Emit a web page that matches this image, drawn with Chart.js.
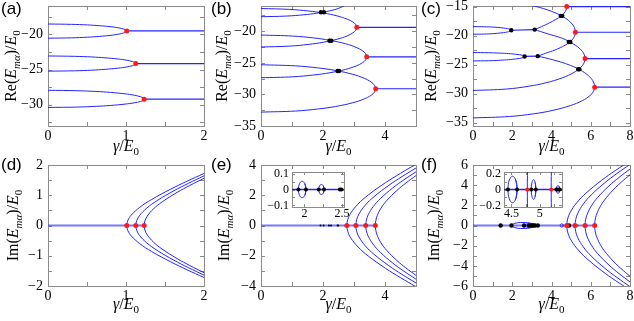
<!DOCTYPE html>
<html>
<head>
<meta charset="utf-8">
<title>Re and Im of E_ma versus gamma</title>
<script src="https://cdn.jsdelivr.net/npm/chart.js@4.4.1/dist/chart.umd.min.js"></script>
<style>
  body { margin: 0; background: #fff; }
  #fig { position: relative; width: 634px; height: 321px; overflow: hidden; }
  #fig canvas { position: absolute; }
</style>
</head>
<body>
<div id="fig"></div>
<script>
// ---- values (gamma/E0, E/E0) ----

// (a) Re: each pair runs lower branch -> exceptional point -> upper branch
const aPair1 = [[0,-20.56],[0.303,-20.51],[0.505,-20.42],[0.657,-20.31],[0.808,-20.15],[0.909,-19.98],[0.97,-19.82],[1.0,-19.68],[1.01,-19.53],[1.0,-19.39],[0.97,-19.26],[0.909,-19.10],[0.808,-18.94],[0.657,-18.79],[0.505,-18.68],[0.303,-18.60],[0,-18.55]];
const aPair2 = [[0,-25.23],[0.338,-25.18],[0.563,-25.09],[0.732,-24.97],[0.901,-24.80],[1.013,-24.63],[1.081,-24.46],[1.115,-24.31],[1.126,-24.16],[1.115,-24.01],[1.081,-23.86],[1.013,-23.69],[0.901,-23.51],[0.732,-23.34],[0.563,-23.22],[0.338,-23.13],[0,-23.08]];
const aPair3 = [[0,-30.37],[0.37,-30.32],[0.617,-30.21],[0.801,-30.09],[0.986,-29.90],[1.11,-29.71],[1.184,-29.53],[1.221,-29.37],[1.233,-29.2],[1.221,-29.02],[1.184,-28.85],[1.11,-28.65],[0.986,-28.44],[0.801,-28.24],[0.617,-28.11],[0.37,-28.00],[0,-27.94]];
const aEP = [[1.01,-19.53],[1.126,-24.16],[1.233,-29.2]];

// (b) Re
const bArm0 = [[0,-17.70],[0.831,-17.59],[1.385,-17.39],[1.801,-17.14],[2.216,-16.77],[2.493,-16.39],[2.659,-16.02],[2.742,-15.70],[2.77,-15.37]];
const bPair1 = [[0,-22.49],[0.927,-22.35],[1.545,-22.07],[2.009,-21.74],[2.472,-21.24],[2.781,-20.73],[2.966,-20.24],[3.059,-19.81],[3.09,-19.37],[3.059,-18.95],[2.966,-18.54],[2.781,-18.08],[2.472,-17.59],[2.009,-17.11],[1.545,-16.80],[0.927,-16.54],[0,-16.40]];
const bPair2 = [[0,-27.36],[1.023,-27.21],[1.705,-26.92],[2.217,-26.57],[2.728,-26.04],[3.069,-25.49],[3.274,-24.98],[3.376,-24.52],[3.41,-24.05],[3.376,-23.56],[3.274,-23.08],[3.069,-22.55],[2.728,-21.98],[2.217,-21.43],[1.705,-21.06],[1.023,-20.76],[0,-20.60]];
const bPair3 = [[0,-32.80],[1.11,-32.63],[1.85,-32.30],[2.405,-31.91],[2.96,-31.32],[3.33,-30.71],[3.552,-30.14],[3.663,-29.62],[3.7,-29.1],[3.663,-28.56],[3.552,-28.04],[3.33,-27.44],[2.96,-26.82],[2.405,-26.21],[1.85,-25.81],[1.11,-25.48],[0,-25.30]];
const bEP = [[3.09,-19.37],[3.41,-24.05],[3.7,-29.1]];
const bCross = [[1.93,-17.0],[2.03,-17.0],[2.21,-21.5],[2.27,-21.5],[2.47,-26.3],[2.52,-26.3]];

// (c) Re
const cLeft1 = [[0,-19.77],[0.585,-19.74],[0.975,-19.68],[1.268,-19.60],[1.56,-19.49],[1.755,-19.38],[1.872,-19.27],[1.931,-19.18],[1.95,-19.08],[1.931,-18.99],[1.872,-18.90],[1.755,-18.81],[1.56,-18.70],[1.268,-18.60],[0.975,-18.53],[0.585,-18.48],[0,-18.45]];
const cLeft2 = [[0,-24.37],[0.789,-24.34],[1.315,-24.27],[1.71,-24.19],[2.104,-24.06],[2.367,-23.94],[2.525,-23.82],[2.604,-23.71],[2.63,-23.6],[2.604,-23.51],[2.525,-23.41],[2.367,-23.31],[2.104,-23.20],[1.71,-23.09],[1.315,-23.02],[0.789,-22.96],[0,-22.93]];
const cJoin1 = [[1.95,-19.08],[3.14,-18.97]];
const cJoin2 = [[2.63,-23.6],[3.3,-23.55]];
const cArcA = [[3.14,-18.97],[3.5,-18.45],[3.9,-17.8],[4.2,-17.25],[4.51,-16.6],[4.65,-16.1],[4.74,-15.6],[4.78,-15.0],[4.74,-14.4],[4.65,-13.9]];
const cArcB = [[2.61,-14.55],[3.393,-15.15],[4.176,-16.05],[4.698,-16.98],[5.011,-17.85],[5.168,-18.64],[5.22,-19.43],[5.168,-20.15],[5.011,-20.86],[4.698,-21.65],[4.176,-22.49],[3.7,-23.05],[3.3,-23.55]];
const cArcC = [[3.14,-18.97],[3.712,-19.6],[4.568,-20.5],[5.139,-21.50],[5.482,-22.39],[5.653,-23.17],[5.71,-23.97],[5.653,-24.75],[5.482,-25.51],[5.139,-26.37],[4.568,-27.27],[3.712,-28.15],[2.855,-28.73],[1.713,-29.22],[0,-29.47]];
const cArcD = [[3.3,-23.55],[4.03,-24.14],[4.96,-25.14],[5.58,-26.17],[5.952,-27.14],[6.138,-28.02],[6.2,-28.9],[6.138,-29.65],[5.952,-30.38],[5.58,-31.21],[4.96,-32.08],[4.03,-32.93],[3.1,-33.49],[1.86,-33.96],[0,-34.2]];
const cEP = [[4.78,-15.0],[5.22,-19.43],[5.71,-23.97],[6.2,-28.9]];
const cCross = [[1.95,-19.08],[3.14,-18.97],[2.63,-23.6],[3.3,-23.55],[4.47,-16.6],[4.55,-16.6],[4.88,-21.1],[4.96,-21.1],[5.36,-25.8],[5.42,-25.8]];

// (d) Im: upper halves of the branches leaving each exceptional point
const dBranch1 = [[1.01,0],[1.0247,0.172],[1.0674,0.344],[1.1769,0.602],[1.3286,0.86],[1.5749,1.204],[1.7813,1.462],[2,1.72]];
const dBranch2 = [[1.126,0],[1.1381,0.164],[1.1735,0.328],[1.2659,0.574],[1.3968,0.82],[1.6145,1.148],[1.8005,1.394],[2,1.64]];
const dBranch3 = [[1.233,0],[1.243,0.156],[1.2726,0.312],[1.3506,0.546],[1.4629,0.78],[1.6539,1.092],[1.8199,1.326],[2,1.56]];
const dEP = [[1.01,0],[1.126,0],[1.233,0]];

// (e) Im
const eBranch1 = [[2.77,0],[2.801,0.405],[2.892,0.81],[3.13,1.418],[3.465,2.025],[4.02,2.835],[4.494,3.443],[5,4.05]];
const eBranch2 = [[3.06,0],[3.085,0.38],[3.161,0.76],[3.358,1.33],[3.643,1.9],[4.126,2.66],[4.545,3.23],[5,3.8]];
const eBranch3 = [[3.38,0],[3.4,0.355],[3.459,0.71],[3.618,1.243],[3.849,1.775],[4.252,2.485],[4.608,3.018],[5,3.55]];
const eBranch4 = [[3.69,0],[3.705,0.33],[3.751,0.66],[3.874,1.155],[4.057,1.65],[4.381,2.31],[4.673,2.805],[5,3.3]];
const eEP = [[2.77,0],[3.06,0],[3.38,0],[3.69,0]];
const eLoop1 = [[2.005,-0.037],[2.02,0],[2.005,0.037],[1.97,0.052],[1.935,0.037],[1.92,0],[1.935,-0.037],[1.97,-0.052],[2.005,-0.037],[2.02,0],[2.005,0.037]];
const eLoop2 = [[2.25,-0.023],[2.26,0],[2.25,0.023],[2.225,0.032],[2.2,0.023],[2.19,0],[2.2,-0.023],[2.225,-0.032],[2.25,-0.023],[2.26,0],[2.25,0.023]];
const eDots = [[1.92,0],[2.02,0],[2.19,0],[2.26,0],[2.47,0],[2.49,0]];

// (f) Im
const fBranch1 = [[4.78,0],[4.823,0.641],[4.949,1.282],[5.281,2.244],[5.756,3.205],[6.558,4.487],[7.251,5.449],[8,6.41]];
const fBranch2 = [[5.2,0],[5.235,0.606],[5.34,1.212],[5.619,2.121],[6.023,3.03],[6.719,4.242],[7.331,5.151],[8,6.06]];
const fBranch3 = [[5.71,0],[5.737,0.56],[5.819,1.12],[6.037,1.96],[6.36,2.8],[6.927,3.92],[7.436,4.76],[8,5.6]];
const fBranch4 = [[6.2,0],[6.221,0.503],[6.282,1.006],[6.448,1.761],[6.696,2.515],[7.139,3.521],[7.544,4.276],[8,5.03]];
const fEP = [[4.78,0],[5.2,0],[5.71,0],[6.2,0]];
const fLoop1 = [[2.967,-0.212],[3.14,0],[2.967,0.212],[2.55,0.3],[2.133,0.212],[1.96,0],[2.133,-0.212],[2.55,-0.3],[2.967,-0.212],[3.14,0],[2.967,0.212]];
const fLoop2 = [[3.197,-0.127],[3.3,0],[3.197,0.127],[2.95,0.18],[2.703,0.127],[2.6,0],[2.703,-0.127],[2.95,-0.18],[3.197,-0.127],[3.3,0],[3.197,0.127]];
const fLoop3 = [[4.577,-0.118],[4.6,0],[4.577,0.118],[4.52,0.167],[4.463,0.118],[4.44,0],[4.463,-0.118],[4.52,-0.167],[4.577,-0.118],[4.6,0],[4.577,0.118]];
const fLoop4 = [[4.918,-0.088],[4.93,0],[4.918,0.088],[4.89,0.125],[4.862,0.088],[4.85,0],[4.862,-0.088],[4.89,-0.125],[4.918,-0.088],[4.93,0],[4.918,0.088]];
const fLoop5 = [[5.341,-0.035],[5.35,0],[5.341,0.035],[5.32,0.05],[5.299,0.035],[5.29,0],[5.299,-0.035],[5.32,-0.05],[5.341,-0.035],[5.35,0],[5.341,0.035]];
const fDots = [[1.41,0],[1.96,0],[2.6,0],[2.85,0],[3.0,0],[3.14,0],[3.3,0],[4.89,0]];
const fInsetDots = [[4.44,0],[4.6,0],[4.85,0],[4.93,0],[5.29,0],[5.32,0],[5.35,0]];

// tick positions and labelled ticks
const ticksA = { x: [0,0.5,1,1.5,2], xl: [0,1,2], y: [-32.5,-30,-27.5,-25,-22.5,-20,-17.5], yl: [-30,-25,-20] };
const ticksB = { x: [0,1,2,3,4,5], xl: [0,2,4], y: [-35,-32.5,-30,-27.5,-25,-22.5,-20,-17.5], yl: [-35,-30,-25,-20] };
const ticksC = { x: [0,1,2,3,4,5,6,7,8], xl: [0,2,4,6,8], y: [-35,-32.5,-30,-27.5,-25,-22.5,-20,-17.5,-15], yl: [-35,-30,-25,-20,-15] };
const ticksD = { x: [0,0.5,1,1.5,2], xl: [0,1,2], y: [-2,-1.5,-1,-0.5,0,0.5,1,1.5,2], yl: [-2,-1,0,1,2] };
const ticksE = { x: [0,1,2,3,4,5], xl: [0,2,4], y: [-4,-3,-2,-1,0,1,2,3,4], yl: [-4,-2,0,2,4] };
const ticksF = { x: [0,1,2,3,4,5,6,7,8], xl: [0,2,4,6,8], y: [-6,-5,-4,-3,-2,-1,0,1,2,3,4,5,6], yl: [-6,-4,-2,0,2,4,6] };
const ticksEi = { x: [2,2.25,2.5], xl: [2,2.5], y: [-0.1,-0.05,0,0.05,0.1], yl: [-0.1,0,0.1] };
const ticksFi = { x: [4.5,4.75,5,5.25], xl: [4.5,5], y: [-0.2,-0.1,0,0.1,0.2], yl: [-0.2,0,0.2] };

// ---- drawing ----
const SERIF = '"Liberation Serif", "DejaVu Serif", serif';
const BLUE = '#2424ff', ZERO = 'rgba(60,60,255,0.7)', RED = '#ff1a1a';
const fig = document.getElementById('fig');

const P = a => a.map(([x, y]) => ({ x, y }));
const line = (a, w = 1, c = BLUE) => ({ data: P(a), showLine: true, borderColor: c, borderWidth: w, pointRadius: 0, tension: 0.4, order: 2 });
const flat = (a, w = 1.2, c = BLUE) => ({ ...line(a, w, c), tension: 0 });
const dots = (a, c, r) => ({ data: P(a), showLine: false, pointRadius: r, pointBackgroundColor: c, pointBorderWidth: 0, clip: false, order: 0 });
const mirror = up => [...up.slice(1).reverse().map(([x, y]) => [x, -y]), ...up];
const plateau = (eps, xmax) => eps.map(([x, y]) => flat([[x, y], [xmax, y]]));
const zeroLine = (eps, w, c) => flat([[0, 0], [Math.max(...eps.map(p => p[0])), 0]], w, c);
const fmt = v => (v < 0 ? '\u2212' : '') + String(Math.abs(v));

const RE = [['Re(', 'n'], ['E', 'i'], ['m\u03b1', 'si'], [')/', 'n'], ['E', 'i'], ['0', 'sn']];
const IM = [['Im(', 'n'], ['E', 'i'], ['m\u03b1', 'si'], [')/', 'n'], ['E', 'i'], ['0', 'sn']];
const GX = [['\u03b3', 'i'], ['/', 'n'], ['E', 'i'], ['0', 'sn']];

function rich(ctx, parts, x, y, vertical) {
  const fnt = s => (s.includes('i') ? 'italic ' : '') + (s[0] === 's' ? 11 : 16) + 'px ' + SERIF;
  let w = 0;
  for (const [t, s] of parts) { ctx.font = fnt(s); w += ctx.measureText(t).width; }
  ctx.save();
  ctx.translate(x, y);
  if (vertical) ctx.rotate(-Math.PI / 2);
  ctx.fillStyle = '#000';
  ctx.textBaseline = 'alphabetic';
  let p = -w / 2;
  for (const [t, s] of parts) {
    ctx.font = fnt(s);
    ctx.fillText(t, p, s[0] === 's' ? 3.5 : 0);
    p += ctx.measureText(t).width;
  }
  ctx.restore();
}

const deco = {
  id: 'deco',
  beforeDraw(c, _a, o) {
    if (!o.white) return;
    const a = c.chartArea;
    c.ctx.save();
    c.ctx.fillStyle = '#fff';
    c.ctx.fillRect(a.left, a.top, a.right - a.left, a.bottom - a.top);
    c.ctx.restore();
  },
  beforeDatasetsDraw(c, _a, o) {
    const { ctx, chartArea: a, scales: { x, y } } = c;
    const L = o.tick;
    ctx.save();
    ctx.strokeStyle = '#8a8a8a';
    ctx.lineWidth = 1;
    ctx.beginPath();
    for (const t of x.ticks) {
      const p = Math.round(x.getPixelForValue(t.value)) + 0.5;
      ctx.moveTo(p, a.bottom); ctx.lineTo(p, a.bottom - L);
      ctx.moveTo(p, a.top); ctx.lineTo(p, a.top + L);
    }
    for (const t of y.ticks) {
      const p = Math.round(y.getPixelForValue(t.value)) + 0.5;
      ctx.moveTo(a.left, p); ctx.lineTo(a.left + L, p);
      ctx.moveTo(a.right, p); ctx.lineTo(a.right - L, p);
    }
    ctx.stroke();
    ctx.strokeRect(Math.round(a.left) + 0.5, Math.round(a.top) + 0.5, Math.round(a.right - a.left), Math.round(a.bottom - a.top));
    ctx.restore();
  },
  afterDraw(c, _a, o) {
    if (!o.label) return;
    const { ctx, chartArea: a } = c;
    const [bx, by] = o.box;
    ctx.save();
    ctx.fillStyle = '#000';
    ctx.font = '17px "Liberation Sans", Arial, sans-serif';
    ctx.textBaseline = 'alphabetic';
    ctx.fillText(o.label, o.labelAt[0] - bx, o.labelAt[1] - by);
    ctx.restore();
    rich(ctx, o.ytitle, o.ytitleX - bx, (a.top + a.bottom) / 2, true);
    rich(ctx, GX, (a.left + a.right) / 2, o.xtitleY - by, false);
  }
};

function axis(min, max, tk, labels, size, fs, pad) {
  return {
    type: 'linear', min, max,
    afterBuildTicks: s => { s.ticks = tk.map(v => ({ value: v })); },
    afterFit: s => {
      if (s.isHorizontal()) s.height = size; else s.width = size;
      s.paddingLeft = s.paddingRight = s.paddingTop = s.paddingBottom = 0;
    },
    ticks: {
      autoSkip: false, maxRotation: 0, minRotation: 0, padding: pad, color: '#000',
      font: { family: SERIF, size: fs }, callback: v => (labels.includes(v) ? fmt(v) : '')
    },
    grid: { display: false, drawTicks: false },
    border: { display: false }
  };
}

function panel(s) {
  const [bx, by, bw, bh] = s.box;
  const [l, t, r, b] = s.plot;
  const cv = document.createElement('canvas');
  cv.width = bw; cv.height = bh;
  cv.style.left = bx + 'px'; cv.style.top = by + 'px';
  fig.appendChild(cv);
  const fs = s.inset ? 12 : 14;
  new Chart(cv, {
    type: 'scatter',
    data: { datasets: s.datasets },
    options: {
      responsive: false, animation: false, devicePixelRatio: 1, events: [],
      layout: { padding: { left: 0, top: t - by, right: bx + bw - r, bottom: 0 } },
      plugins: {
        legend: { display: false }, tooltip: { enabled: false },
        deco: { box: [bx, by], tick: s.inset ? 3 : 4, white: !!s.inset, label: s.label, labelAt: s.labelAt,
                ytitle: s.ytitle, ytitleX: s.ytitleX, xtitleY: s.xtitleY }
      },
      scales: {
        x: axis(s.xr[0], s.xr[1], s.ticks.x, s.ticks.xl, by + bh - b, fs, s.inset ? 0 : 2),
        y: axis(s.yr[0], s.yr[1], s.ticks.y, s.ticks.yl, l - bx, fs, s.inset ? 3 : 5)
      }
    },
    plugins: [deco]
  });
}

panel({ box: [0, 0, 210, 157], plot: [48, 6, 204, 126], xr: [0, 2], yr: [-33, -16], ticks: ticksA,
  label: '(a)', labelAt: [1, 14], ytitle: RE, ytitleX: 16, xtitleY: 151,
  datasets: [dots(aEP, RED, 2.5), line(aPair1), line(aPair2), line(aPair3), ...plateau(aEP, 2)] });

panel({ box: [210, 0, 210, 157], plot: [261, 6, 418, 126], xr: [0, 5], yr: [-35, -16], ticks: ticksB,
  label: '(b)', labelAt: [211, 14], ytitle: RE, ytitleX: 227, xtitleY: 151,
  datasets: [dots(bEP, RED, 2.5), dots(bCross, '#000', 2.2), line(bArm0), line(bPair1), line(bPair2), line(bPair3), ...plateau(bEP, 5)] });

panel({ box: [420, 0, 214, 157], plot: [473, 6, 631, 126], xr: [0, 8], yr: [-35.6, -14.9], ticks: ticksC,
  label: '(c)', labelAt: [421, 14], ytitle: RE, ytitleX: 436, xtitleY: 151,
  datasets: [dots(cEP, RED, 2.5), dots(cCross, '#000', 2.2), line(cLeft1), line(cLeft2), flat(cJoin1), flat(cJoin2),
    line(cArcA), line(cArcB), line(cArcC), line(cArcD), ...plateau(cEP, 8)] });

panel({ box: [0, 157, 210, 164], plot: [48, 165, 204, 286], xr: [0, 2], yr: [-2, 2], ticks: ticksD,
  label: '(d)', labelAt: [1, 170], ytitle: IM, ytitleX: 18, xtitleY: 309,
  datasets: [dots(dEP, RED, 2.5), line(mirror(dBranch1)), line(mirror(dBranch2)), line(mirror(dBranch3)), zeroLine(dEP, 2, ZERO)] });

panel({ box: [210, 157, 210, 164], plot: [261, 165, 418, 286], xr: [0, 5], yr: [-4, 4], ticks: ticksE,
  label: '(e)', labelAt: [211, 170], ytitle: IM, ytitleX: 229, xtitleY: 309,
  datasets: [dots(eEP, RED, 2.5), dots(eDots, '#000', 1), line(mirror(eBranch1)), line(mirror(eBranch2)), line(mirror(eBranch3)), line(mirror(eBranch4)),
    zeroLine(eEP, 2, ZERO)] });

panel({ box: [420, 157, 214, 164], plot: [473, 165, 631, 286], xr: [0, 8], yr: [-6, 6], ticks: ticksF,
  label: '(f)', labelAt: [421, 170], ytitle: IM, ytitleX: 439, xtitleY: 309,
  datasets: [dots(fEP, RED, 2.5), dots(fDots, '#000', 2.2), line(mirror(fBranch1)), line(mirror(fBranch2)), line(mirror(fBranch3)), line(mirror(fBranch4)),
    line(fLoop1), line(fLoop2), line(fLoop3), line(fLoop4), line(fLoop5), zeroLine(fEP, 2, ZERO)] });

// insets
panel({ inset: true, box: [264, 166, 92, 58], plot: [292, 172, 344, 207], xr: [1.835, 2.525], yr: [-0.11, 0.11], ticks: ticksEi,
  datasets: [dots(eDots, '#000', 2), line(eLoop1), line(eLoop2), zeroLine(eEP, 1.5, BLUE)] });

panel({ inset: true, box: [474, 166, 94, 58], plot: [504, 172, 562, 207], xr: [4.37, 5.39], yr: [-0.22, 0.22], ticks: ticksFi,
  datasets: [dots(fEP, RED, 2), dots(fInsetDots, '#000', 2), line(mirror(fBranch1)), line(mirror(fBranch2)),
    line(fLoop3), line(fLoop4), line(fLoop5), zeroLine(fEP, 1.5, BLUE)] });
</script>
</body>
</html>
